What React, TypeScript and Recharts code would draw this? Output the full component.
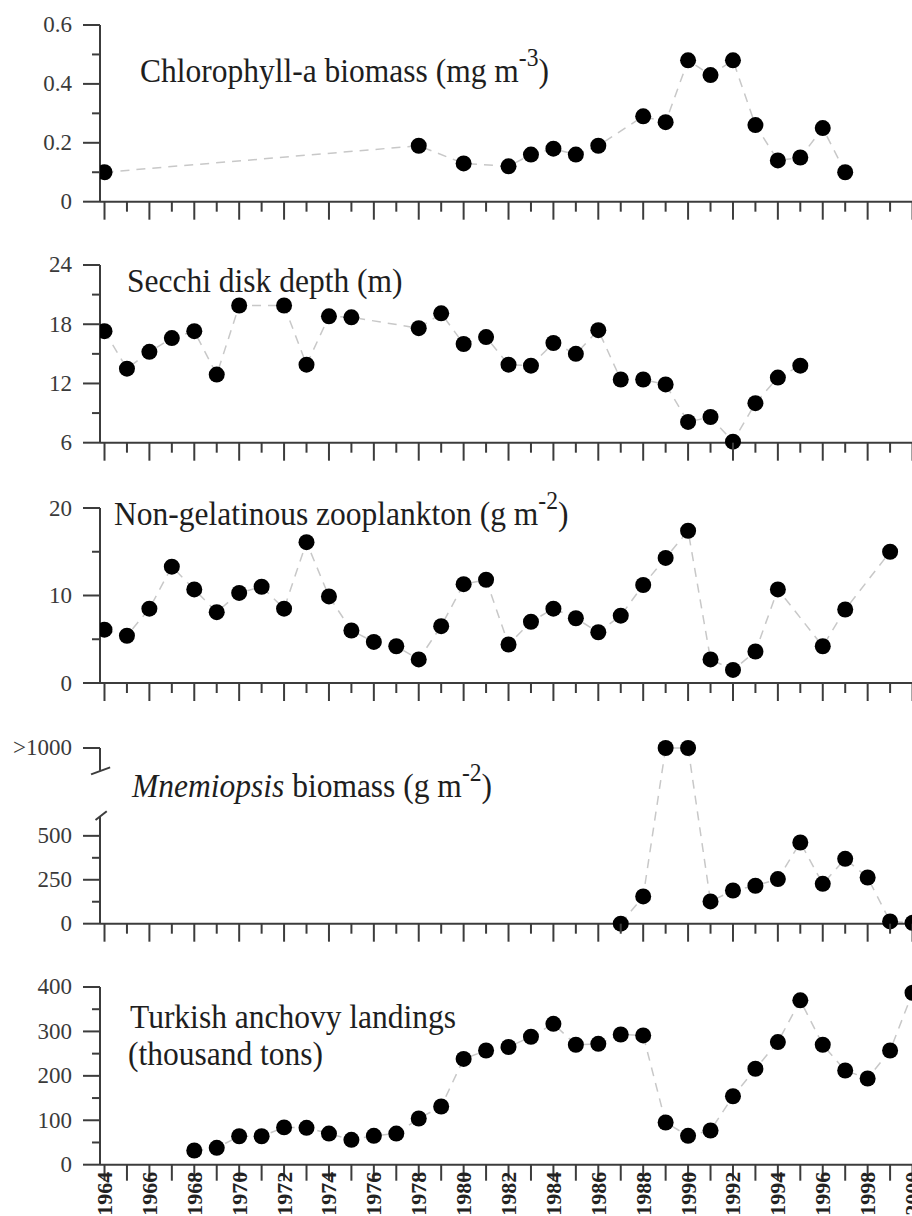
import { LineChart, Line, XAxis, YAxis, ReferenceLine } from "recharts";

const SERIF = '"Liberation Serif", "Times New Roman", serif';
const AXIS = "#3c3c3c";
const LINE = "#c8c8c8";

// x axis: one tick per year, labels on even years (bottom panel only)
const yearTicks = [
  1964, 1965, 1966, 1967, 1968, 1969, 1970, 1971, 1972, 1973, 1974, 1975, 1976,
  1977, 1978, 1979, 1980, 1981, 1982, 1983, 1984, 1985, 1986, 1987, 1988, 1989,
  1990, 1991, 1992, 1993, 1994, 1995, 1996, 1997, 1998, 1999, 2000,
];
const yearLabels = [
  1964, 1966, 1968, 1970, 1972, 1974, 1976, 1978, 1980, 1982, 1984, 1986, 1988,
  1990, 1992, 1994, 1996, 1998, 2000,
];

// Chlorophyll-a
const chlYears = [1964, 1978, 1980, 1982, 1983, 1984, 1985, 1986, 1988, 1989, 1990, 1991, 1992, 1993, 1994, 1995, 1996, 1997];
const chlValues = [0.1, 0.19, 0.13, 0.12, 0.16, 0.18, 0.16, 0.19, 0.29, 0.27, 0.48, 0.43, 0.48, 0.26, 0.14, 0.15, 0.25, 0.1];
const chlTicks = [0, 0.1, 0.2, 0.3, 0.4, 0.5, 0.6];
const chlLabels = [0, 0.2, 0.4, 0.6];

// Secchi disk depth
const secYears = [1964, 1965, 1966, 1967, 1968, 1969, 1970, 1972, 1973, 1974, 1975, 1978, 1979, 1980, 1981, 1982, 1983, 1984, 1985, 1986, 1987, 1988, 1989, 1990, 1991, 1992, 1993, 1994, 1995];
const secValues = [17.3, 13.5, 15.2, 16.6, 17.3, 12.9, 19.9, 19.9, 13.9, 18.8, 18.7, 17.6, 19.1, 16.0, 16.7, 13.9, 13.8, 16.1, 15.0, 17.4, 12.4, 12.4, 11.9, 8.1, 8.6, 6.1, 10.0, 12.6, 13.8];
const secTicks = [6, 9, 12, 15, 18, 21, 24];
const secLabels = [6, 12, 18, 24];

// Non-gelatinous zooplankton
const zooYears = [1964, 1965, 1966, 1967, 1968, 1969, 1970, 1971, 1972, 1973, 1974, 1975, 1976, 1977, 1978, 1979, 1980, 1981, 1982, 1983, 1984, 1985, 1986, 1987, 1988, 1989, 1990, 1991, 1992, 1993, 1994, 1996, 1997, 1999];
const zooValues = [6.1, 5.4, 8.5, 13.3, 10.7, 8.1, 10.3, 11.0, 8.5, 16.1, 9.9, 6.0, 4.7, 4.2, 2.7, 6.5, 11.3, 11.8, 4.4, 7.0, 8.5, 7.4, 5.8, 7.7, 11.2, 14.3, 17.4, 2.7, 1.5, 3.6, 10.7, 4.2, 8.4, 15.0];
const zooTicks = [0, 5, 10, 15, 20];
const zooLabels = [0, 10, 20];

// Mnemiopsis (1000 stands for ">1000")
const mneYears = [1987, 1988, 1989, 1990, 1991, 1992, 1993, 1994, 1995, 1996, 1997, 1998, 1999, 2000];
const mneValues = [0, 155, 1000, 1000, 127, 189, 216, 254, 462, 227, 369, 263, 13, 5];
const mneTicks = [0, 125, 250, 375, 500, 1000];
const mneLabels = [0, 250, 500, 1000];

// Turkish anchovy landings
const ancYears = [1968, 1969, 1970, 1971, 1972, 1973, 1974, 1975, 1976, 1977, 1978, 1979, 1980, 1981, 1982, 1983, 1984, 1985, 1986, 1987, 1988, 1989, 1990, 1991, 1992, 1993, 1994, 1995, 1996, 1997, 1998, 1999, 2000];
const ancValues = [32, 38, 64, 64, 84, 83, 70, 56, 65, 70, 104, 131, 238, 257, 265, 288, 317, 270, 272, 293, 291, 95, 65, 77, 154, 216, 276, 370, 270, 212, 194, 257, 387];
const ancTicks = [0, 50, 100, 150, 200, 250, 300, 350, 400];
const ancLabels = [0, 100, 200, 300, 400];

const toRows = (years: number[], values: number[]) =>
  years.map((year, i) => ({ year, value: values[i] }));

function XTick({ x, y, payload, showYears, labelled }: any) {
  const v = payload.value;
  const major = v % 2 === 0;
  const len = showYears ? 16 : major ? 18 : 10;
  return (
    <g>
      <line x1={x} x2={x} y1={y} y2={y + len} stroke={AXIS} strokeWidth={2} />
      {labelled && (
        <text
          x={x}
          y={y + 7}
          transform={`rotate(-90 ${x} ${y + 7})`}
          textAnchor="end"
          dominantBaseline="central"
          fontFamily={SERIF}
          fontWeight="bold"
          fontSize={22}
          fill="#222"
        >
          {v}
        </text>
      )}
    </g>
  );
}

function YTick({ x, y, payload, labels }: any) {
  const v = payload.value;
  const major = labels.includes(v);
  const len = major ? 17 : 8;
  const text = v === 1000 ? ">1000" : String(v);
  return (
    <g>
      <line x1={x - len} x2={x} y1={y} y2={y} stroke={AXIS} strokeWidth={2} />
      {major && (
        <text
          x={x - 28}
          y={y}
          textAnchor="end"
          dominantBaseline="central"
          fontFamily={SERIF}
          fontSize={23}
          fill="#3a3a3a"
        >
          {text}
        </text>
      )}
    </g>
  );
}

interface PanelProps {
  rows: { year: number; value: number }[];
  top: number;
  bottom: number;
  domain: [number, number];
  ticks: number[];
  labels: number[];
  showYears?: boolean;
  broken?: boolean;
}

function Panel({ rows, top, bottom, domain, ticks, labels, showYears, broken }: PanelProps) {
  const mt = 20;
  const xh = showYears ? 60 : 30;
  const h = mt + (bottom - top) + xh;
  const seg = (a: [number, number], b: [number, number]) => (
    <ReferenceLine
      segment={[{ x: a[0], y: a[1] }, { x: b[0], y: b[1] }]}
      stroke={AXIS}
      strokeWidth={2}
      ifOverflow="visible"
    />
  );
  return (
    <div style={{ position: "absolute", left: 0, top: top - mt }}>
      <LineChart width={945} height={h} data={rows} margin={{ top: mt, right: 10, bottom: 0, left: 0 }}>
        <XAxis
          dataKey="year"
          type="number"
          domain={[1963.8, 2001]}
          ticks={yearTicks}
          interval={0}
          allowDataOverflow
          height={xh}
          tickSize={0}
          tickMargin={0}
          tickLine={false}
          axisLine={{ stroke: AXIS, strokeWidth: 2 }}
          tick={(p: any) => (
            <XTick {...p} showYears={showYears} labelled={showYears && yearLabels.includes(p.payload.value)} />
          )}
        />
        <YAxis
          type="number"
          domain={domain}
          ticks={ticks}
          interval={0}
          width={100}
          tickSize={0}
          tickMargin={0}
          tickLine={false}
          axisLine={broken ? false : { stroke: AXIS, strokeWidth: 2 }}
          tick={(p: any) => <YTick {...p} labels={labels} />}
        />
        {broken && seg([1963.8, 0], [1963.8, 610])}
        {broken && seg([1963.8, 870], [1963.8, 1000])}
        {broken && seg([1963.4, 850], [1964.25, 890])}
        {broken && seg([1963.6, 590], [1964.1, 640])}
        <Line
          type="linear"
          dataKey="value"
          stroke={LINE}
          strokeWidth={1.5}
          strokeDasharray="9 7"
          dot={{ r: 8, fill: "#000", stroke: "none" }}
          isAnimationActive={false}
        />
      </LineChart>
    </div>
  );
}

const titleStyle = (left: number, baseline: number): React.CSSProperties => ({
  position: "absolute",
  left,
  top: baseline - 26,
  fontFamily: SERIF,
  fontSize: 31.5,
  lineHeight: 1,
  color: "#1e1e1e",
  whiteSpace: "nowrap",
  transform: "scaleY(1.08)",
  transformOrigin: "left 84%",
});

const sup: React.CSSProperties = { fontSize: "0.75em", position: "relative", top: "-0.62em" };

export default function App() {
  return (
    <div
      style={{
        position: "absolute",
        left: 0,
        top: 0,
        width: 912,
        height: 1216,
        overflow: "hidden",
        background: "#fff",
      }}
    >
      <Panel rows={toRows(chlYears, chlValues)} top={25} bottom={201.7} domain={[0, 0.6]} ticks={chlTicks} labels={chlLabels} />
      <Panel rows={toRows(secYears, secValues)} top={265} bottom={442.7} domain={[6, 24]} ticks={secTicks} labels={secLabels} />
      <Panel rows={toRows(zooYears, zooValues)} top={508.3} bottom={683.3} domain={[0, 20]} ticks={zooTicks} labels={zooLabels} />
      <Panel rows={toRows(mneYears, mneValues)} top={748.3} bottom={924} domain={[0, 1000]} ticks={mneTicks} labels={mneLabels} broken />
      <Panel rows={toRows(ancYears, ancValues)} top={987.3} bottom={1165} domain={[0, 400]} ticks={ancTicks} labels={ancLabels} showYears />

      <div style={titleStyle(140, 81.7)}>
        Chlorophyll-a biomass (mg m<span style={sup}>-3</span>)
      </div>
      <div style={titleStyle(127, 291.7)}>Secchi disk depth (m)</div>
      <div style={titleStyle(114, 525)}>
        Non-gelatinous zooplankton (g m<span style={sup}>-2</span>)
      </div>
      <div style={titleStyle(132, 796.7)}>
        <i>Mnemiopsis</i> biomass (g m<span style={sup}>-2</span>)
      </div>
      <div style={titleStyle(130, 1028)}>Turkish anchovy landings</div>
      <div style={titleStyle(128, 1065)}>(thousand tons)</div>
    </div>
  );
}
